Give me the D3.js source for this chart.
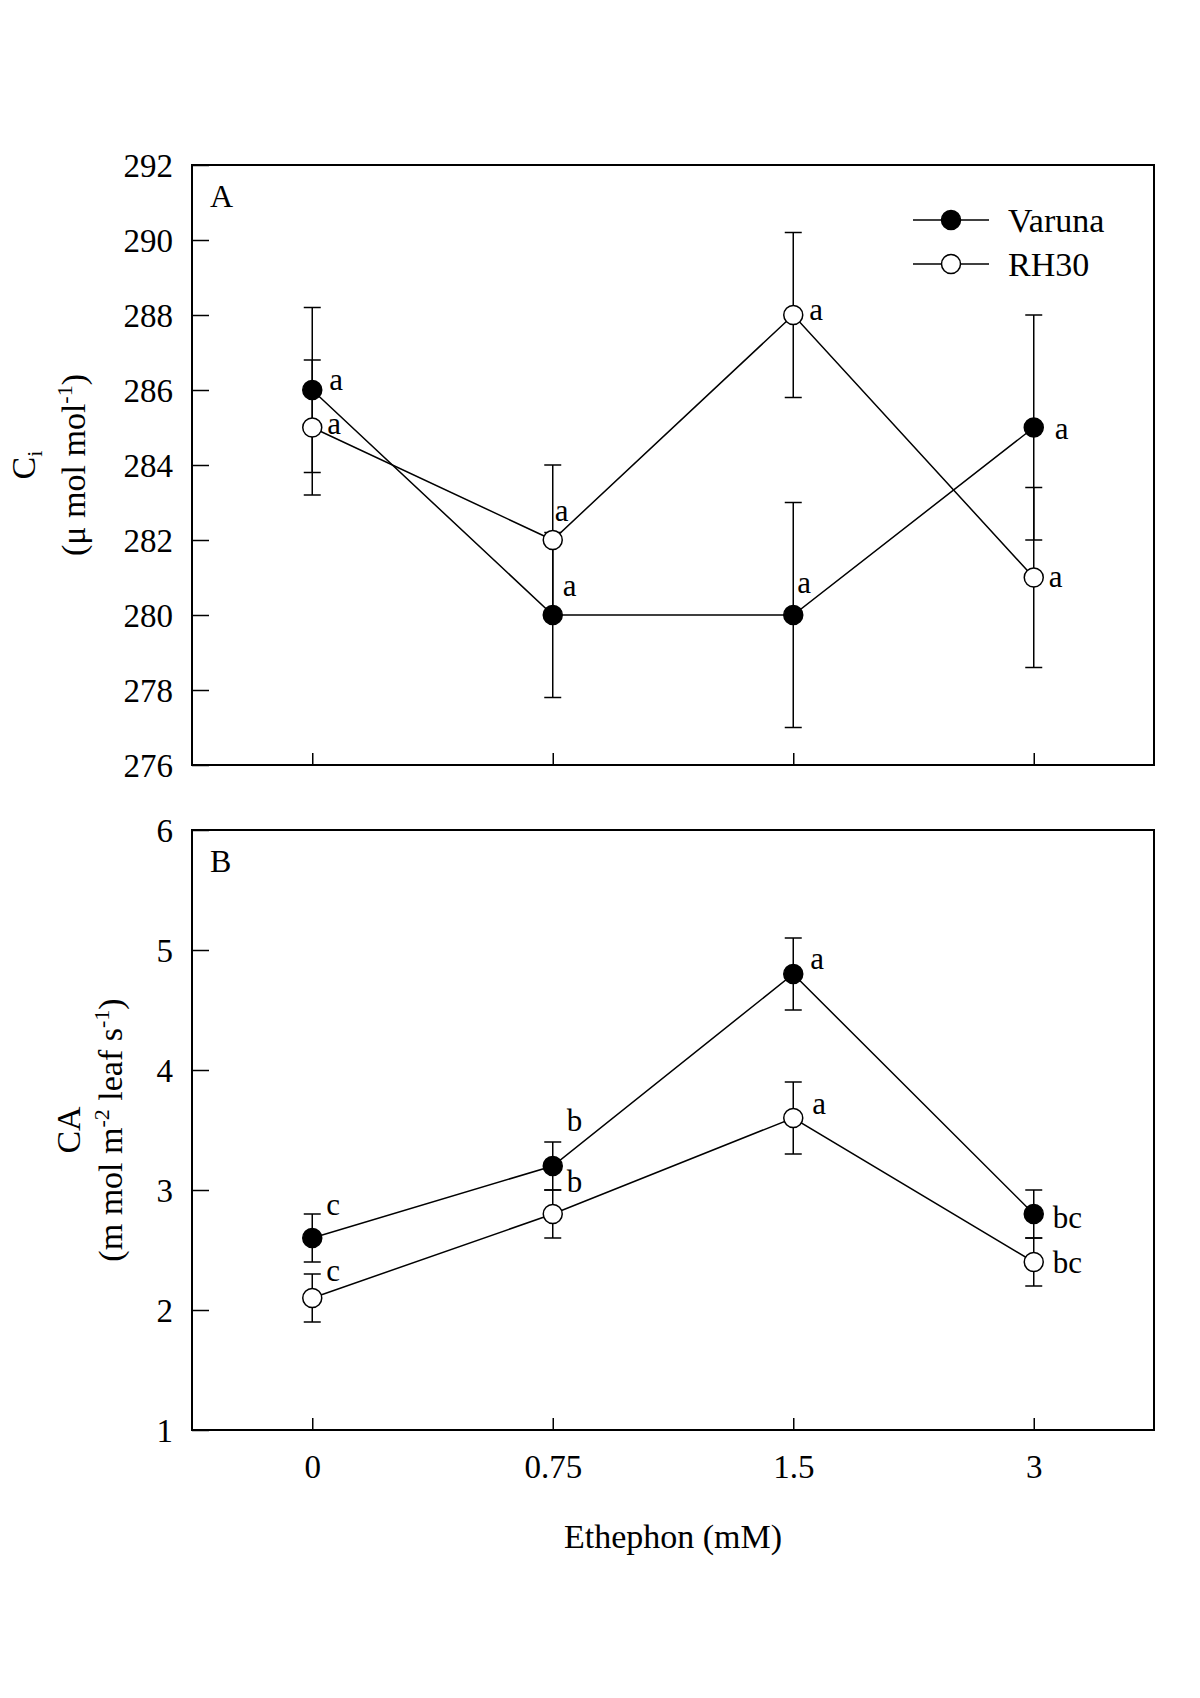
<!DOCTYPE html>
<html>
<head>
<meta charset="utf-8">
<script src="https://cdn.jsdelivr.net/npm/d3@7"></script>
<style>
  html, body { margin: 0; padding: 0; background: #fff; }
  svg text { font-family: "Liberation Serif", "Times New Roman", serif; fill: #000; }
</style>
</head>
<body>
<svg id="chart" width="1200" height="1698"></svg>
<script>
// ---------- data ----------
const categories = ["0", "0.75", "1.5", "3"];
const seriesNames = ["Varuna", "RH30"];

// Panel A: Ci (µmol mol-1)
const ciVaruna = [286, 280, 280, 285];
const ciVarunaErr = [2.2, 2.2, 3.0, 3.0];
const ciRH30 = [285, 282, 288, 281];
const ciRH30Err = [1.8, 2.0, 2.2, 2.4];
const ciVarunaLetters = ["a", "a", "a", "a"];
const ciRH30Letters = ["a", "a", "a", "a"];
const ciTicks = [276, 278, 280, 282, 284, 286, 288, 290, 292];

// Panel B: CA
const caVaruna = [2.6, 3.2, 4.8, 2.8];
const caVarunaErr = [0.2, 0.2, 0.3, 0.2];
const caRH30 = [2.1, 2.8, 3.6, 2.4];
const caRH30Err = [0.2, 0.2, 0.3, 0.2];
const caVarunaLetters = ["c", "b", "a", "bc"];
const caRH30Letters = ["c", "b", "a", "bc"];
const caTicks = [1, 2, 3, 4, 5, 6];

// ---------- layout ----------
const svg = d3.select("#chart");
const left = 192, right = 1154;
const panels = [
  {
    id: "A", top: 165, bottom: 765, domain: [276, 292], ticks: ciTicks,
    series: [
      { name: "Varuna", vals: ciVaruna, err: ciVarunaErr, letters: ciVarunaLetters, filled: true,
        labelOff: [[17, 0], [10, -19], [4, -22], [21, 11]] },
      { name: "RH30", vals: ciRH30, err: ciRH30Err, letters: ciRH30Letters, filled: false,
        labelOff: [[15, 6], [2, -19], [16, 5], [15, 9]] }
    ],
    title1: "C", title1sub: "i", title1x: 35,
    title2x: 85, legend: true
  },
  {
    id: "B", top: 830, bottom: 1430, domain: [1, 6], ticks: caTicks,
    series: [
      { name: "Varuna", vals: caVaruna, err: caVarunaErr, letters: caVarunaLetters, filled: true,
        labelOff: [[14, -23], [14, -35], [17, -5], [19, 14]] },
      { name: "RH30", vals: caRH30, err: caRH30Err, letters: caRH30Letters, filled: false,
        labelOff: [[14, -17], [14, -22], [19, -4], [19, 11]] }
    ],
    title1: "CA", title1x: 80,
    title2x: 122, legend: false
  }
];

const x = d3.scalePoint().domain(categories).range([left, right]).padding(0.5);
const fontTick = 33, fontLetter = 31, fontTitle = 34;
const r = 9.5;

panels.forEach(p => {
  const y = d3.scaleLinear().domain(p.domain).range([p.bottom, p.top]);
  const g = svg.append("g");

  // frame
  g.append("rect").attr("x", left).attr("y", p.top)
    .attr("width", right - left).attr("height", p.bottom - p.top)
    .attr("fill", "none").attr("stroke", "#000").attr("stroke-width", 2);

  // y axis (inward ticks)
  const yAxis = d3.axisLeft(y).tickValues(p.ticks).tickSize(-17).tickPadding(19)
    .tickFormat(d3.format("d"));
  const ya = g.append("g").attr("transform", `translate(${left},0)`).call(yAxis);
  ya.select(".domain").remove();
  ya.selectAll(".tick line").attr("stroke", "#000").attr("stroke-width", 1.5);
  ya.selectAll(".tick text").attr("font-size", fontTick)
    .attr("font-family", "Liberation Serif").attr("dy", "0.34em");

  // x axis ticks (inward)
  const xAxis = d3.axisBottom(x).tickSize(-12).tickPadding(25);
  const xa = g.append("g").attr("transform", `translate(0,${p.bottom})`).call(xAxis);
  xa.select(".domain").remove();
  xa.selectAll(".tick line").attr("stroke", "#000").attr("stroke-width", 1.5);
  if (p.id === "B") {
    xa.selectAll(".tick text").attr("font-size", fontTick)
      .attr("font-family", "Liberation Serif").attr("dy", "0.71em");
  } else {
    xa.selectAll(".tick text").remove();
  }

  // panel letter
  g.append("text").attr("x", left + 18).attr("y", p.top + 42)
    .attr("font-size", 32).text(p.id);

  // error bars
  p.series.forEach(s => {
    const eb = g.append("g");
    s.vals.forEach((v, i) => {
      const cx = x(categories[i]);
      const y1 = y(v + s.err[i]), y0 = y(v - s.err[i]);
      eb.append("line").attr("x1", cx).attr("x2", cx).attr("y1", y1).attr("y2", y0)
        .attr("stroke", "#000").attr("stroke-width", 1.5);
      [y1, y0].forEach(yy => eb.append("line")
        .attr("x1", cx - 8.5).attr("x2", cx + 8.5).attr("y1", yy).attr("y2", yy)
        .attr("stroke", "#000").attr("stroke-width", 1.5));
    });
  });

  // lines
  const line = d3.line().x((d, i) => x(categories[i])).y(d => y(d));
  p.series.forEach(s => {
    g.append("path").datum(s.vals).attr("d", line)
      .attr("fill", "none").attr("stroke", "#000").attr("stroke-width", 1.5);
  });

  // markers
  p.series.forEach(s => {
    g.selectAll(null).data(s.vals).enter().append("circle")
      .attr("cx", (d, i) => x(categories[i])).attr("cy", d => y(d)).attr("r", r)
      .attr("fill", s.filled ? "#000" : "#fff").attr("stroke", "#000").attr("stroke-width", 1.5);
  });

  // significance letters
  p.series.forEach(s => {
    s.letters.forEach((t, i) => {
      g.append("text")
        .attr("x", x(categories[i]) + s.labelOff[i][0])
        .attr("y", y(s.vals[i]) + s.labelOff[i][1])
        .attr("font-size", fontLetter).text(t);
    });
  });

  // y titles
  const cy = (p.top + p.bottom) / 2;
  const t1 = g.append("text").attr("transform", `translate(${p.title1x},${cy}) rotate(-90)`)
    .attr("text-anchor", "middle").attr("font-size", fontTitle);
  t1.append("tspan").text(p.title1);
  if (p.title1sub) {
    t1.append("tspan").attr("font-size", 22).attr("dy", 7).text(p.title1sub);
  }
  const t2 = g.append("text").attr("transform", `translate(${p.title2x},${cy}) rotate(-90)`)
    .attr("text-anchor", "middle").attr("font-size", fontTitle);
  if (p.id === "A") {
    t2.append("tspan").text("(μ mol mol");
    t2.append("tspan").attr("font-size", 22).attr("dy", -13).text("-1");
    t2.append("tspan").attr("dy", 13).text(")");
  } else {
    t2.append("tspan").text("(m mol m");
    t2.append("tspan").attr("font-size", 22).attr("dy", -13).text("-2");
    t2.append("tspan").attr("dy", 13).text(" leaf s");
    t2.append("tspan").attr("font-size", 22).attr("dy", -13).text("-1");
    t2.append("tspan").attr("dy", 13).text(")");
  }

  // legend
  if (p.legend) {
    const lg = g.append("g");
    const ly = [220, 264];
    seriesNames.forEach((n, k) => {
      lg.append("line").attr("x1", 913).attr("x2", 989).attr("y1", ly[k]).attr("y2", ly[k])
        .attr("stroke", "#000").attr("stroke-width", 1.5);
      lg.append("circle").attr("cx", 951).attr("cy", ly[k]).attr("r", r)
        .attr("fill", k === 0 ? "#000" : "#fff").attr("stroke", "#000").attr("stroke-width", 1.5);
      lg.append("text").attr("x", 1008).attr("y", ly[k] + 12).attr("font-size", fontTitle).text(n);
    });
  }
});

// x axis title
svg.append("text").attr("x", (left + right) / 2).attr("y", 1548)
  .attr("text-anchor", "middle").attr("font-size", fontTitle).text("Ethephon (mM)");
</script>
</body>
</html>
